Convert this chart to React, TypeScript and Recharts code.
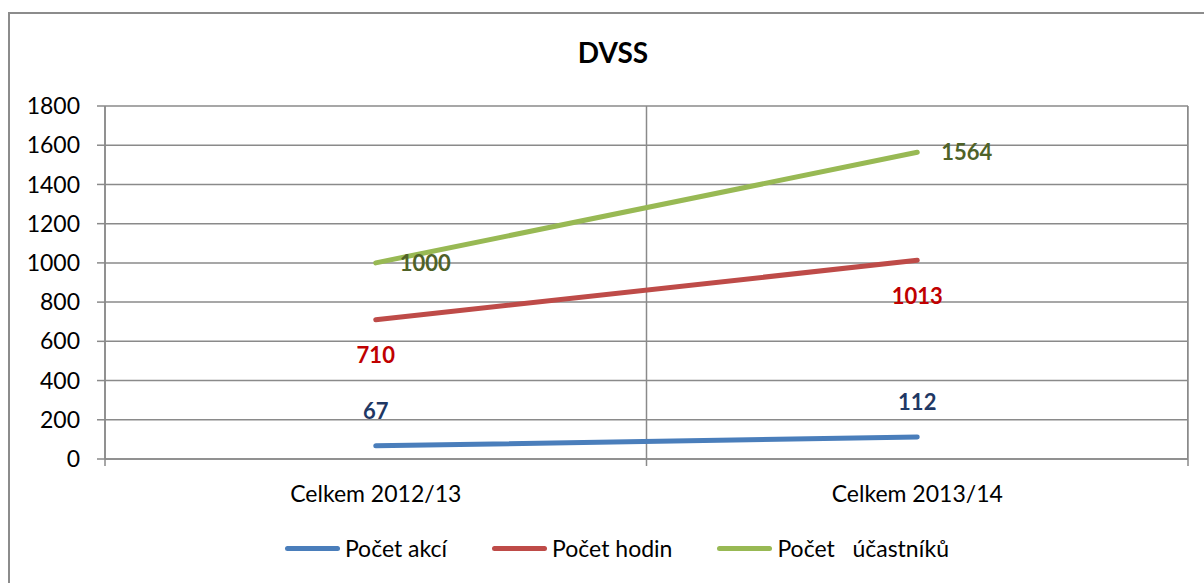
import { LineChart, Line, XAxis, YAxis, CartesianGrid, LabelList } from 'recharts';

const categories = ['Celkem 2012/13', 'Celkem 2013/14'];
const pocetAkci = [67, 112];
const pocetHodin = [710, 1013];
const pocetUcastniku = [1000, 1564];
const yTicks = [0, 200, 400, 600, 800, 1000, 1200, 1400, 1600, 1800];

const series = [
  { key: 'akce', name: 'Počet akcí', color: '#4A7EBB', labelColor: '#1F3864', pos: 'top', offset: 27 },
  { key: 'hodiny', name: 'Počet hodin', color: '#BE4B48', labelColor: '#C00000', pos: 'bottom', offset: 28 },
  { key: 'ucastnici', name: 'Počet   účastníků', color: '#98B954', labelColor: '#4F6228', pos: 'right', offset: 24 },
] as const;

const data = categories.map((name, i) => ({
  name,
  idx: i + 0.5,
  akce: pocetAkci[i],
  hodiny: pocetHodin[i],
  ucastnici: pocetUcastniku[i],
}));

const FONT = 'Lato, "Open Sans", sans-serif';
const GRID = '#8a8a8a';

const W = 1204;
const H = 583;
const M = { top: 106, right: 16, left: 0, bottom: 84 };
const X_AXIS_H = 8 + 32;

// boundary axis carries only tick marks, no labels
const EmptyTick = () => <g />;

export default function App() {
  return (
    <div
      style={{
        position: 'fixed',
        left: 0,
        top: 0,
        width: W,
        height: H,
        overflow: 'hidden',
        background: '#fff',
        fontFamily: FONT,
      }}
    >
      {/* outer frame, runs past the right and bottom edges */}
      <div
        style={{
          position: 'absolute',
          left: 8,
          top: 12,
          width: 1400,
          height: 800,
          border: '2px solid #8c8c8c',
        }}
      />
      <div
        style={{
          position: 'absolute',
          left: 513,
          top: 38,
          width: 200,
          textAlign: 'center',
          fontSize: 28,
          lineHeight: '28px',
          fontWeight: 700,
          color: '#000',
        }}
      >
        DVSS
      </div>

      <div style={{ position: 'absolute', left: 0, top: 0 }}>
        <LineChart width={W} height={H} data={data} margin={M}>
          <CartesianGrid xAxisId="axis" stroke={GRID} strokeWidth={1.5} />
          <XAxis
            xAxisId="axis"
            type="number"
            dataKey="idx"
            domain={[0, categories.length]}
            ticks={categories.map((_, i) => i).concat(categories.length)}
            interval={0}
            tick={EmptyTick}
            tickSize={7}
            height={8}
            stroke={GRID}
            strokeWidth={1.5}
          />
          <XAxis
            xAxisId="labels"
            dataKey="name"
            scale="band"
            axisLine={false}
            tickLine={false}
            tickSize={0}
            tickMargin={19}
            height={32}
            tick={{ fontSize: 23, fill: '#000', fontFamily: FONT }}
          />
          <YAxis
            domain={[0, 1800]}
            ticks={yTicks}
            width={105}
            tickSize={8}
            tickMargin={17}
            stroke={GRID}
            strokeWidth={1.5}
            tick={{ fontSize: 23, fill: '#000', fontFamily: FONT }}
          />
          {series.map((s) => (
            <Line
              key={s.key}
              xAxisId="labels"
              type="linear"
              dataKey={s.key}
              name={s.name}
              stroke={s.color}
              strokeWidth={5}
              strokeLinecap="round"
              dot={false}
              activeDot={false}
              isAnimationActive={false}
            >
              <LabelList
                dataKey={s.key}
                position={s.pos}
                offset={s.offset}
                fill={s.labelColor}
                fontSize={22}
                fontWeight={700}
                fontFamily={FONT}
              />
            </Line>
          ))}
        </LineChart>
      </div>

      {/* right edge of the plot area */}
      <div
        style={{
          position: 'absolute',
          left: W - M.right - 1,
          top: M.top,
          width: 0,
          height: H - M.top - M.bottom - X_AXIS_H,
          borderLeft: `1.5px solid ${GRID}`,
        }}
      />

      <div
        style={{
          position: 'absolute',
          left: 0,
          width: 1234,
          top: 537,
          display: 'flex',
          justifyContent: 'center',
          fontSize: 23,
          lineHeight: '23px',
          color: '#000',
        }}
      >
        {series.map((s, i) => (
          <div
            key={s.key}
            style={{ display: 'flex', alignItems: 'center', marginLeft: i === 0 ? 0 : 45 }}
          >
            <span
              style={{
                display: 'inline-block',
                width: 55,
                height: 5,
                borderRadius: 3,
                background: s.color,
                marginRight: 5,
              }}
            />
            <span style={{ whiteSpace: 'pre' }}>{s.name}</span>
          </div>
        ))}
      </div>
    </div>
  );
}
